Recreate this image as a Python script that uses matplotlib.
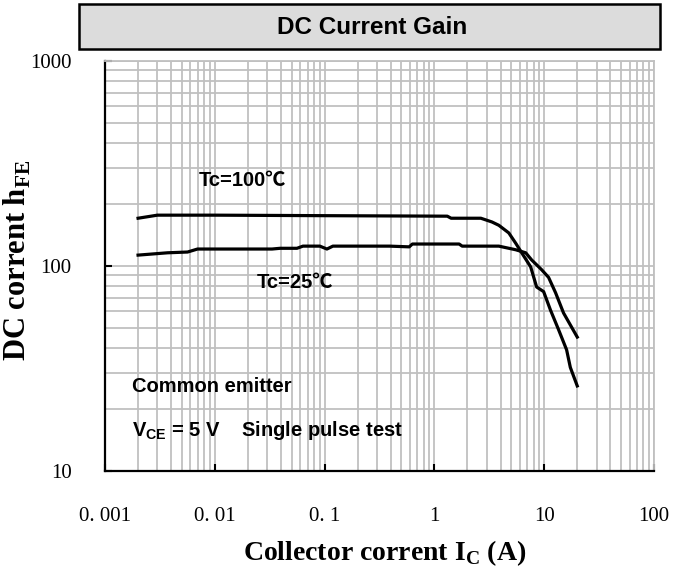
import matplotlib
matplotlib.use("Agg")
import matplotlib.pyplot as plt
from matplotlib.patches import Rectangle
from matplotlib.ticker import LogLocator, NullFormatter, FixedLocator, FixedFormatter

# ---- data ----
tc100_x = [0.002, 0.003, 0.01, 0.1, 1.31, 1.42, 2.65, 3.34, 3.86, 4.76, 5.51, 6.24,
           7.53, 8.53, 9.88, 11.4, 13.5, 16.0, 17.3, 20.0]
tc100_y = [171, 177, 177, 176, 175, 171, 171, 164, 158, 145, 129, 116,
           99, 79, 75, 61, 49, 39, 32, 26]

tc25_x = [0.002, 0.00372, 0.00565, 0.00696, 0.0332, 0.0393, 0.056, 0.0635, 0.0905,
          0.105, 0.119, 0.39, 0.59, 0.63, 1.68, 1.79, 3.86, 5.51, 6.79, 7.69, 9.46,
          10.96, 12.7, 15.0, 20.0]
tc25_y = [113, 116, 117, 121, 121, 122, 122, 125, 125, 121, 125, 125, 124, 128, 128,
          125, 125, 120, 116, 107, 96, 88, 74, 59, 45]

x_ticks = [0.001, 0.01, 0.1, 1, 10, 100]
x_tick_labels = ["0. 001", "0. 01", "0. 1", "1", "10", "100"]
y_ticks = [10, 100, 1000]
y_tick_labels = ["10", "100", "1000"]

title = "DC Current Gain"
xlabel = r"Collector corrent I$_\mathbf{C}$ (A)"
ylabel = r"DC corrent h$_\mathbf{FE}$"

plt.rcParams['mathtext.fontset'] = 'custom'
plt.rcParams['mathtext.rm'] = 'Liberation Serif'
plt.rcParams['mathtext.bf'] = 'Liberation Serif:bold'
plt.rcParams['mathtext.sf'] = 'Liberation Sans:bold'

fig = plt.figure(figsize=(6.73, 5.68), dpi=100)
ax = fig.add_axes([105/673, 1-471/568, 549/673, 410/568])

grid_c = "#c0c0c0"
ax.set_xscale('log')
ax.set_yscale('log')
ax.set_xlim(0.001, 100)
ax.set_ylim(10, 1000)

ax.xaxis.set_major_locator(FixedLocator(x_ticks))
ax.xaxis.set_major_formatter(FixedFormatter(x_tick_labels))
ax.yaxis.set_major_locator(FixedLocator(y_ticks))
ax.yaxis.set_major_formatter(FixedFormatter(y_tick_labels))
ax.xaxis.set_minor_locator(LogLocator(base=10, subs=range(2, 10), numticks=20))
ax.yaxis.set_minor_locator(LogLocator(base=10, subs=range(2, 10), numticks=20))
ax.xaxis.set_minor_formatter(NullFormatter())
ax.yaxis.set_minor_formatter(NullFormatter())

ax.grid(True, which='both', color=grid_c, linewidth=1.3)
ax.set_axisbelow(True)

ax.tick_params(which='major', direction='in', length=5, width=1.5, color='black',
               labelsize=15, top=False, right=False)
ax.tick_params(axis='y', pad=24)
ax.tick_params(axis='x', pad=26)
ax.tick_params(which='minor', length=0)
for lab in ax.get_xticklabels() + ax.get_yticklabels():
    lab.set_fontfamily('Liberation Serif')

for s in ['left', 'bottom']:
    ax.spines[s].set_color('black')
    ax.spines[s].set_linewidth(1.6)
for s in ['top', 'right']:
    ax.spines[s].set_color(grid_c)
    ax.spines[s].set_linewidth(1.3)

ax.plot(tc100_x, tc100_y, color='black', linewidth=2.3, solid_joinstyle='round')
ax.plot(tc25_x, tc25_y, color='black', linewidth=2.3, solid_joinstyle='round')

sans = ['Liberation Sans', 'Noto Sans CJK SC', 'DejaVu Sans']
fs_ann = 14.5
ax.text((199-105)/549, (471-180)/410, "Tc=100℃", transform=ax.transAxes,
        ha='left', va='center', fontsize=fs_ann, fontweight='bold', family=sans)
ax.text((257-105)/549, (471-283)/410, "Tc=25℃", transform=ax.transAxes,
        ha='left', va='center', fontsize=fs_ann, fontweight='bold', family=sans)
ax.text((132-105)/549, (471-386)/410, "Common emitter", transform=ax.transAxes,
        ha='left', va='center', fontsize=fs_ann, fontweight='bold', family=sans)
ax.text((132-105)/549, (471-430)/410, r"V$_\mathsf{CE}$ = 5 V    Single pulse test",
        transform=ax.transAxes, ha='left', va='center', fontsize=fs_ann,
        fontweight='bold', family=sans)

ax.set_xlabel(xlabel, fontsize=20, fontweight='bold', family='Liberation Serif')
ax.xaxis.set_label_coords((385-105)/549, (471-538)/410)
ax.set_ylabel(ylabel, fontsize=22, fontweight='bold', family='Liberation Serif')
ax.yaxis.set_label_coords((33-105)/549, (471-260)/410)

# title box
fig.patches.append(Rectangle((79/673, 1-49/568), 581/673, 45/568, transform=fig.transFigure,
                             facecolor='#dcdcdc', edgecolor='black', linewidth=1.8))
fig.text(372/673, 1-27/568, title, ha='center', va='center', fontsize=17.5,
         fontweight='bold', family=sans)

fig.savefig("out.png", dpi=100)
